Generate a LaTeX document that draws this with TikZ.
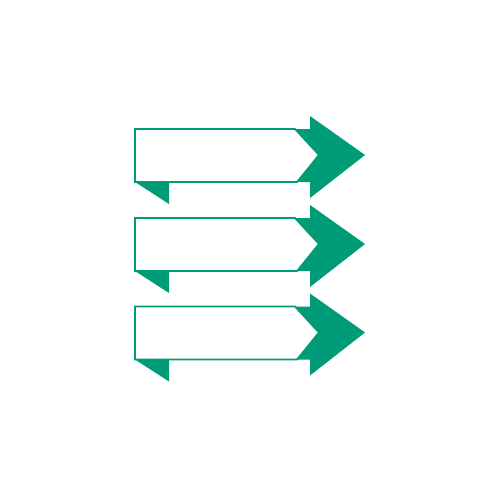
\documentclass[tikz,border=0pt]{standalone}
\definecolor{ribgreen}{RGB}{0,155,119}
\tikzset{
  edgeline/.style={draw=ribgreen,line width=1pt,line join=miter},
  headfill/.style={fill=ribgreen},
  ribbon/.pic={
    \fill[headfill] (150,0) -- (175,0) -- (175,-13) -- (230,26) -- (175,69) -- (175,53) -- (150,53) -- cycle;
    \fill[headfill] (0,53) -- (34,53) -- (34,75) -- cycle;
    \filldraw[fill=white,edgeline] (0,0) -- (160,0) -- (184,26) -- (162,53) -- (0,53) -- cycle;
  }
}
\begin{document}
\begin{tikzpicture}[x=0.02cm,y=-0.02cm]
\useasboundingbox[fill=white] (0,0) rectangle (500,500);
\pic at (135,129) {ribbon};
\pic at (135,218) {ribbon};
\pic at (135,306.5) {ribbon};
\end{tikzpicture}
\end{document}
